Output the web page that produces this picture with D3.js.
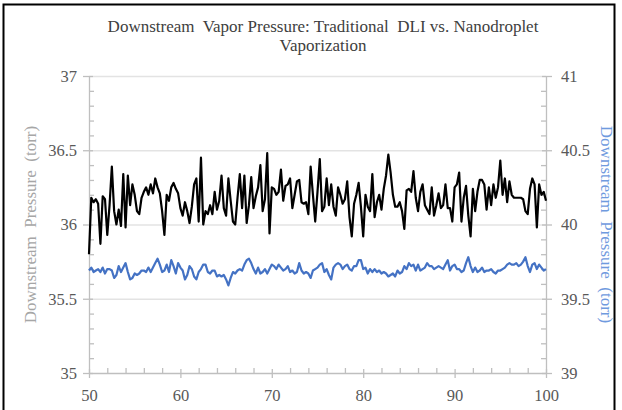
<!DOCTYPE html>
<html>
<head>
<meta charset="utf-8">
<script src="https://cdn.jsdelivr.net/npm/d3@7"></script>
<style>
  body { margin: 0; background: #fff; }
  text { font-family: "Liberation Serif", "Times New Roman", serif; white-space: pre; }
</style>
</head>
<body>
<div id="chart"></div>
<script>
// sample times run from 50 to 100 in steps of 0.25
var tStart = 50;
var tStep = 0.25;

// traditional DLI (left axis, torr)
var dliValues = [
  35.80, 36.18, 36.15, 36.17, 36.14, 35.87, 36.19, 36.17, 35.93, 36.13,
  36.39, 36.09, 36.00, 36.10, 35.99, 36.34, 35.98, 36.33, 36.13, 36.27,
  36.20, 36.09, 36.07, 36.18, 36.22, 36.25, 36.20, 36.27, 36.21, 36.31,
  36.25, 36.21, 36.09, 35.93, 36.20, 36.16, 36.25, 36.28, 36.24, 36.21,
  36.11, 36.06, 36.15, 36.09, 36.01, 36.12, 36.27, 36.31, 36.02, 36.45,
  36.00, 36.09, 36.07, 36.13, 36.07, 36.22, 36.10, 36.16, 36.33, 36.11,
  36.06, 36.31, 36.16, 36.02, 36.00, 36.18, 36.34, 36.11, 36.33, 36.01,
  36.13, 36.32, 36.11, 36.19, 36.25, 36.40, 36.09, 36.17, 36.48, 35.94,
  36.25, 36.24, 36.20, 36.22, 36.37, 36.16, 36.26, 36.27, 36.31, 36.11,
  36.20, 36.29, 36.30, 36.15, 36.14, 36.15, 36.07, 36.39, 36.20, 36.02,
  36.22, 36.44, 36.09, 36.12, 36.31, 36.13, 36.27, 36.12, 36.06, 36.25,
  36.20, 36.14, 36.17, 36.29, 36.05, 35.92, 36.14, 36.20, 36.28, 36.12,
  35.92, 36.20, 36.12, 36.09, 36.34, 36.05, 36.15, 36.20, 36.10, 36.24,
  36.33, 36.47, 36.35, 36.20, 36.12, 36.12, 36.15, 36.09, 35.97, 36.23,
  36.24, 36.22, 36.36, 36.18, 36.09, 36.22, 36.27, 36.13, 36.10, 36.07,
  36.25, 36.06, 36.13, 36.21, 36.11, 36.13, 36.27, 36.11, 36.11, 36.02,
  36.25, 36.27, 36.35, 36.02, 36.18, 36.26, 36.06, 35.92, 36.24, 36.09,
  36.22, 36.30, 36.30, 36.27, 36.10, 36.25, 36.13, 36.27, 36.18, 36.25,
  36.43, 36.20, 36.31, 36.15, 36.29, 36.20, 36.18, 36.18, 36.18, 36.18,
  36.17, 36.09, 36.07, 36.24, 36.31, 36.27, 35.98, 36.27, 36.20, 36.22,
  36.16
];

// nanodroplet vaporization (right axis, torr)
var nanoValues = [
  39.69, 39.71, 39.68, 39.69, 39.70, 39.68, 39.71, 39.67, 39.70, 39.70,
  39.69, 39.64, 39.66, 39.72, 39.68, 39.71, 39.74, 39.68, 39.63, 39.64,
  39.67, 39.66, 39.67, 39.69, 39.69, 39.68, 39.71, 39.68, 39.71, 39.74,
  39.77, 39.73, 39.68, 39.69, 39.73, 39.68, 39.76, 39.72, 39.67, 39.74,
  39.71, 39.69, 39.63, 39.66, 39.72, 39.70, 39.65, 39.63, 39.68, 39.70,
  39.73, 39.73, 39.68, 39.67, 39.69, 39.69, 39.65, 39.66, 39.65, 39.66,
  39.63, 39.59, 39.64, 39.68, 39.67, 39.69, 39.70, 39.69, 39.73, 39.76,
  39.77, 39.74, 39.70, 39.67, 39.71, 39.67, 39.68, 39.70, 39.67, 39.70,
  39.73, 39.72, 39.70, 39.73, 39.71, 39.69, 39.70, 39.72, 39.68, 39.69,
  39.67, 39.68, 39.74, 39.69, 39.67, 39.68, 39.67, 39.64, 39.69, 39.70,
  39.71, 39.73, 39.74, 39.68, 39.70, 39.66, 39.63, 39.71, 39.73, 39.74,
  39.73, 39.70, 39.72, 39.73, 39.70, 39.69, 39.72, 39.72, 39.76, 39.76,
  39.70, 39.71, 39.67, 39.70, 39.68, 39.70, 39.68, 39.69, 39.67, 39.68,
  39.67, 39.65, 39.66, 39.67, 39.65, 39.69, 39.67, 39.68, 39.72, 39.70,
  39.74, 39.72, 39.73, 39.69, 39.73, 39.69, 39.70, 39.71, 39.74, 39.72,
  39.72, 39.70, 39.71, 39.72, 39.71, 39.70, 39.73, 39.76, 39.69, 39.72,
  39.73, 39.70, 39.70, 39.68, 39.69, 39.74, 39.78, 39.72, 39.68, 39.71,
  39.68, 39.69, 39.71, 39.68, 39.69, 39.69, 39.70, 39.68, 39.67, 39.69,
  39.69, 39.70, 39.71, 39.73, 39.74, 39.73, 39.73, 39.74, 39.72, 39.73,
  39.75, 39.78, 39.72, 39.68, 39.73, 39.74, 39.70, 39.73, 39.71, 39.69,
  39.70
];

// axis ticks
var xTicks = [50, 60, 70, 80, 90, 100];
var yLeftTicks = [35, 35.5, 36, 36.5, 37];
var yRightTicks = [39, 39.5, 40, 40.5, 41];

var titleLines = ["Downstream  Vapor Pressure: Traditional  DLI vs. Nanodroplet", "Vaporization"];
var axisTitle = "Downstream  Pressure  (torr)";

var svgWidth = 622;
var svgHeight = 410;
var margin = { top: 76, right: 76, bottom: 37, left: 89 };
var width = svgWidth - margin.left - margin.right;
var height = svgHeight - margin.top - margin.bottom;

var svg = d3.select("#chart")
    .append("svg")
    .attr("width", svgWidth)
    .attr("height", svgHeight);

svg.append("rect")
    .attr("width", svgWidth)
    .attr("height", svgHeight)
    .attr("fill", "#fff");

// outer frame
svg.append("rect")
    .attr("x", 3.5)
    .attr("y", 4.5)
    .attr("width", 611)
    .attr("height", 420)
    .attr("fill", "none")
    .attr("stroke", "#000")
    .attr("stroke-width", 2);

var chartGroup = svg.append("g")
    .attr("transform", `translate(${margin.left}, ${margin.top})`);

var xScale = d3.scaleLinear().domain([50, 100]).range([0, width]);
var yLeft = d3.scaleLinear().domain([35, 37]).range([height, 0]);
var yRight = d3.scaleLinear().domain([39, 41]).range([height, 0]);

var gridColor = "#e3e3e3";
var axisColor = "#bfbfbf";
var labelColor = "#595959";

// gridlines
chartGroup.append("g")
    .selectAll("line")
    .data(yLeftTicks.filter(d => d > 35))
    .enter()
    .append("line")
    .attr("x1", 0)
    .attr("x2", width)
    .attr("y1", d => yLeft(d) + 0.5)
    .attr("y2", d => yLeft(d) + 0.5)
    .attr("stroke", gridColor)
    .attr("stroke-width", 1.3);

// minor ticks
var yMinor = d3.range(35.1, 37, 0.1).filter(d => Math.abs(d * 2 - Math.round(d * 2)) > 0.01);
var xMinor = d3.range(52, 100, 2).filter(d => d % 10 !== 0);

function styleAxis(g) {
    g.select(".domain").attr("stroke", axisColor).attr("stroke-width", 1.3);
    g.selectAll(".tick line").attr("stroke", axisColor).attr("stroke-width", 1.3);
    g.selectAll(".tick text")
        .attr("fill", labelColor)
        .style("font-size", "16.5px")
        .style("font-family", "'Liberation Serif', serif");
}

// minor tick groups (inside)
chartGroup.append("g")
    .call(d3.axisRight(yLeft).tickValues(yMinor).tickSize(5).tickFormat(""))
    .call(g => g.select(".domain").remove())
    .call(g => g.selectAll("line").attr("stroke", axisColor).attr("stroke-width", 1.3));

chartGroup.append("g")
    .attr("transform", `translate(${width}, 0)`)
    .call(d3.axisLeft(yRight).tickValues(yMinor.map(d => d + 4)).tickSize(5).tickFormat(""))
    .call(g => g.select(".domain").remove())
    .call(g => g.selectAll("line").attr("stroke", axisColor).attr("stroke-width", 1.3));

chartGroup.append("g")
    .attr("transform", `translate(0, ${height})`)
    .call(d3.axisTop(xScale).tickValues(xMinor).tickSize(5).tickFormat(""))
    .call(g => g.select(".domain").remove())
    .call(g => g.selectAll("line").attr("stroke", axisColor).attr("stroke-width", 1.3));

// main axes
var leftAxis = chartGroup.append("g")
    .call(d3.axisLeft(yLeft).tickValues(yLeftTicks).tickSizeInner(6).tickSizeOuter(0).tickPadding(6).tickFormat(d3.format("")))
    .call(styleAxis);
leftAxis.selectAll(".tick line").attr("x2", 4).attr("x1", -6);

var rightAxis = chartGroup.append("g")
    .attr("transform", `translate(${width}, 0)`)
    .call(d3.axisRight(yRight).tickValues(yRightTicks).tickSizeInner(6).tickSizeOuter(0).tickPadding(9).tickFormat(d3.format("")))
    .call(styleAxis);
rightAxis.selectAll(".tick line").attr("x1", -4).attr("x2", 6);

var bottomAxis = chartGroup.append("g")
    .attr("transform", `translate(0, ${height})`)
    .call(d3.axisBottom(xScale).tickValues(xTicks).tickSizeInner(5).tickSizeOuter(0).tickPadding(11).tickFormat(d3.format("")))
    .call(styleAxis);
bottomAxis.selectAll(".tick line").attr("y1", -4).attr("y2", 5);

// lines
var dliLine = d3.line()
    .x((d, i) => xScale(tStart + i * tStep))
    .y(d => yLeft(d));

var nanoLine = d3.line()
    .x((d, i) => xScale(tStart + i * tStep))
    .y(d => yRight(d));

chartGroup.append("path")
    .datum(nanoValues)
    .attr("d", nanoLine)
    .attr("fill", "none")
    .attr("stroke", "#4472c4")
    .attr("stroke-width", 2.2)
    .attr("stroke-linejoin", "round");

chartGroup.append("path")
    .datum(dliValues)
    .attr("d", dliLine)
    .attr("fill", "none")
    .attr("stroke", "#000")
    .attr("stroke-width", 2.2)
    .attr("stroke-linejoin", "round");

// title
svg.append("g")
    .selectAll("text")
    .data(titleLines)
    .enter()
    .append("text")
    .attr("x", 323)
    .attr("y", (d, i) => 32 + i * 19)
    .attr("text-anchor", "middle")
    .attr("fill", "#404040")
    .style("font-size", "17px")
    .text(d => d);

// axis titles
svg.append("text")
    .attr("transform", `translate(36, ${margin.top + height / 2}) rotate(-90)`)
    .attr("text-anchor", "middle")
    .attr("fill", "#a6a6a6")
    .style("font-size", "17px")
    .text(axisTitle);

svg.append("text")
    .attr("transform", `translate(601, ${margin.top + height / 2}) rotate(90)`)
    .attr("text-anchor", "middle")
    .attr("fill", "#6f9ade")
    .style("font-size", "17px")
    .text(axisTitle);
</script>
</body>
</html>
